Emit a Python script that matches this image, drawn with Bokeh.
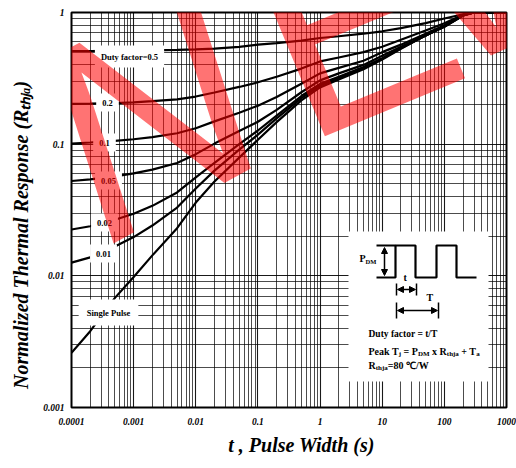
import math
from bokeh.plotting import figure
from bokeh.models import (Range1d, FixedTicker, CustomJSTickFormatter, Label,
                          Arrow, NormalHead)
from bokeh.embed import file_html
from bokeh.resources import INLINE

# ---------------- data ----------------
t = [1e-4, 2e-4, 5e-4, 1e-3, 2e-3, 5e-3, 1e-2, 2e-2, 5e-2, 0.1, 0.2, 0.5,
     1, 2, 5, 10, 20, 50, 100, 200, 300, 1000]
z_d050 = [0.51, 0.51, 0.512, 0.513, 0.515, 0.52, 0.525, 0.532, 0.548, 0.57, 0.585, 0.612,
          0.64, 0.66, 0.69, 0.72, 0.76, 0.83, 0.90, 0.97, 1.0, 1.0]
z_d020 = [0.202, 0.203, 0.205, 0.208, 0.212, 0.219, 0.23, 0.247, 0.272, 0.295, 0.325, 0.375,
          0.425, 0.455, 0.50, 0.55, 0.62, 0.73, 0.83, 0.96, 1.0, 1.0]
z_d010 = [0.101, 0.103, 0.106, 0.109, 0.113, 0.121, 0.132, 0.149, 0.173, 0.196, 0.228, 0.288,
          0.345, 0.38, 0.43, 0.50, 0.57, 0.69, 0.80, 0.955, 1.0, 1.0]
z_d005 = [0.0525, 0.054, 0.057, 0.060, 0.064, 0.072, 0.084, 0.101, 0.126, 0.148, 0.182, 0.248,
          0.305, 0.345, 0.40, 0.47, 0.55, 0.67, 0.79, 0.95, 1.0, 1.0]
z_d002 = [0.0225, 0.0238, 0.0267, 0.0296, 0.034, 0.043, 0.056, 0.072, 0.100, 0.127, 0.165, 0.232,
          0.287, 0.325, 0.385, 0.45, 0.54, 0.67, 0.785, 0.95, 1.0, 1.0]
z_d001 = [0.0126, 0.0138, 0.0167, 0.0197, 0.0241, 0.033, 0.046, 0.063, 0.091, 0.118, 0.157, 0.224,
          0.279, 0.318, 0.378, 0.445, 0.535, 0.67, 0.78, 0.95, 1.0, 1.0]
z_single = [0.0026, 0.0038, 0.0068, 0.0098, 0.0143, 0.023, 0.036, 0.052, 0.079, 0.108, 0.147, 0.215,
            0.27, 0.31, 0.37, 0.44, 0.53, 0.67, 0.78, 0.95, 1.0, 1.0]
series = [z_d050, z_d020, z_d010, z_d005, z_d002, z_d001, z_single]
series_labels = ["Duty factor=0.5", "0.2", "0.1", "0.05", "0.02", "0.01", "Single Pulse"]

x_ticks = [1e-4, 1e-3, 1e-2, 0.1, 1, 10, 100, 1000]
x_tick_labels = ["0.0001", "0.001", "0.01", "0.1", "1", "10", "100", "1000"]
y_ticks = [0.001, 0.01, 0.1, 1]
y_tick_labels = ["0.001", "0.01", "0.1", "1"]

x_title = "t , Pulse Width (s)"
y_title = "Normalized Thermal Response (R\u209c\u2095\u2c7c\u2090)"

# ---------------- layout helpers (page pixel -> data) ----------------
def X(px):
    return 10 ** (-4 + 7 * (px - 71) / 435.0)

def Y(py):
    return 10 ** (-3 * (py - 12) / 395.0)

SERIF = "Liberation Serif"
NB = "\u00a0"

p = figure(width=516, height=468, x_axis_type="log", y_axis_type="log",
           x_range=Range1d(1e-4, 1e3), y_range=Range1d(1e-3, 1),
           output_backend="svg", toolbar_location=None,
           min_border_left=71, min_border_right=10, min_border_top=12, min_border_bottom=61)
p.background_fill_color = "white"
p.border_fill_color = "white"
p.outline_line_color = "black"
p.outline_line_width = 2

x_minor = [m * 10 ** e for e in range(-4, 3) for m in range(2, 10)]
y_minor = [m * 10 ** e for e in range(-3, 0) for m in range(2, 10)]
xt = FixedTicker(ticks=x_ticks, minor_ticks=x_minor)
yt = FixedTicker(ticks=y_ticks, minor_ticks=y_minor)
p.xaxis.ticker = xt
p.yaxis.ticker = yt
p.xgrid.ticker = xt
p.ygrid.ticker = yt

fmt_code = """
let best = 0, bd = Infinity;
for (let i = 0; i < tv.length; i++) {
  const d = Math.abs(Math.log10(tick) - Math.log10(tv[i]));
  if (d < bd) { bd = d; best = i; }
}
return lab[best];
"""
p.xaxis.formatter = CustomJSTickFormatter(args=dict(tv=x_ticks, lab=x_tick_labels), code=fmt_code)
p.yaxis.formatter = CustomJSTickFormatter(args=dict(tv=y_ticks, lab=y_tick_labels), code=fmt_code)

for ax in (p.xaxis, p.yaxis):
    ax.axis_line_color = None
    ax.major_tick_line_color = None
    ax.minor_tick_line_color = None
    ax.major_tick_out = 0
    ax.minor_tick_out = 0
    ax.major_label_text_font = SERIF
    ax.major_label_text_font_style = "bold italic"
    ax.major_label_text_font_size = "9.5px"
    ax.major_label_text_color = "black"
    ax.axis_label_text_font = SERIF
    ax.axis_label_text_font_style = "bold italic"
    ax.axis_label_text_font_size = "20px"
    ax.axis_label_text_color = "black"
p.xaxis.major_label_standoff = 10
p.yaxis.major_label_standoff = 7
# non-breaking spaces shift the centred titles to where the reference has them
p.xaxis.axis_label = NB * 5 + x_title
p.yaxis.axis_label = y_title + NB * 10
p.xaxis.axis_label_standoff = 6
p.yaxis.axis_label_standoff = 8

for g in (p.xgrid, p.ygrid):
    g.grid_line_color = "black"
    g.grid_line_alpha = 0.9
    g.grid_line_width = 1.1
    g.minor_grid_line_color = "black"
    g.minor_grid_line_alpha = 0.7
    g.minor_grid_line_width = 1

# curves
for z in series:
    p.line(t, z, line_color="black", line_width=2.2)

# curve labels (white boxes)
label_pos = [(129, 56, 6), (107, 102, 6), (104, 142, 6), (108, 180, 6),
             (104, 222, 6), (103, 253, 6), (108, 312, 8)]
for txt, (px, py, pad) in zip(series_labels, label_pos):
    p.add_layout(Label(x=X(px), y=Y(py), text=txt, text_align="center", text_baseline="middle",
                       text_font=SERIF, text_font_style="bold", text_font_size="8.5px",
                       text_color="black", background_fill_color="white", padding=pad))

# ---------------- inset ----------------
p.quad(left=X(348), right=X(488), top=Y(231), bottom=Y(381), fill_color="white", line_color=None)
wave_px = [376, 395, 395, 415, 415, 436, 436, 456, 456, 476]
wave_py = [277, 277, 245, 245, 277, 277, 245, 245, 277, 277]
p.line([X(v) for v in wave_px], [Y(v) for v in wave_py], line_color="black", line_width=2.2)
p.line([X(376), X(395)], [Y(245), Y(245)], line_color="black", line_width=2)
# tees
p.segment(x0=[X(396), X(416), X(396), X(438)], y0=[Y(283), Y(283), Y(302), Y(302)],
          x1=[X(396), X(416), X(396), X(438)], y1=[Y(295), Y(295), Y(318), Y(318)],
          line_color="black", line_width=1.5)

def head():
    return NormalHead(size=6, fill_color="black", line_color="black", line_width=1)

for (x0, y0, x1, y1) in [(384, 247, 384, 275), (397, 289, 415, 289), (397, 310, 437, 310)]:
    p.add_layout(Arrow(start=head(), end=head(), x_start=X(x0), y_start=Y(y0),
                       x_end=X(x1), y_end=Y(y1), line_color="black", line_width=1.5))

TW = {' ': 0.25, '=': 0.57, '+': 0.57, '/': 0.278, '0': 0.5, '8': 0.5, '.': 0.25, 'P': 0.611,
      'e': 0.444, 'a': 0.5, 'k': 0.556, 'T': 0.667, 'j': 0.333, 'D': 0.722, 'M': 0.944,
      'x': 0.5, 'R': 0.722, 't': 0.333, 'h': 0.556, 'u': 0.556, 'y': 0.5, 'f': 0.333,
      'c': 0.444, 'o': 0.5, 'r': 0.444, 'W': 1.0, '℃': 0.95}

def tw(s, fs):
    return sum(TW.get(c, 0.5) for c in s) * fs

def rich(parts, px, py, size, sub_size):
    x = px
    for txt, sub in parts:
        fs = sub_size if sub else size
        lead = len(txt) - len(txt.lstrip(' '))
        x += tw(' ' * lead, fs)
        body = txt.strip(' ')
        p.add_layout(Label(x=X(x), y=Y(py + (2.5 if sub else 0)), text=body, text_align="left",
                           text_baseline="middle", text_font=SERIF, text_font_style="bold",
                           text_font_size=f"{fs}px", text_color="black"))
        x += tw(body, fs)
        trail = len(txt) - len(txt.rstrip(' '))
        x += tw(' ' * trail, fs)

rich([("P", 0), ("DM", 1)], 359, 258, 10, 6.5)
rich([("t", 0)], 403, 277, 10, 7)
rich([("T", 0)], 426, 297, 10, 7)
rich([("Duty factor = t/T", 0)], 368, 333, 9.5, 7)
rich([("Peak T", 0), ("j", 1), (" = P", 0), ("DM", 1), (" x R", 0), ("thja", 1), (" + T", 0), ("a", 1)],
     368, 351, 10, 7)
rich([("R", 0), ("thja", 1), ("=80 ℃/W", 0)], 368, 365, 10, 7)

# ---------------- watermark ----------------
wm = [("N", 59, 162, 0.50, "italic"),
      ("E", 266, 55, 0.393, "normal"),
      ("W", 398, -10, 0.42, "normal")]
for ch, px, py, ang, st in wm:
    p.add_layout(Label(x=X(px), y=Y(py), text=ch, angle=ang, text_align="left",
                       text_baseline="alphabetic", text_font="Liberation Sans",
                       text_font_style=st, text_font_size="280px",
                       text_color="#ff0000", text_alpha=0.55))

open("out.html", "w").write(file_html(p, INLINE))
